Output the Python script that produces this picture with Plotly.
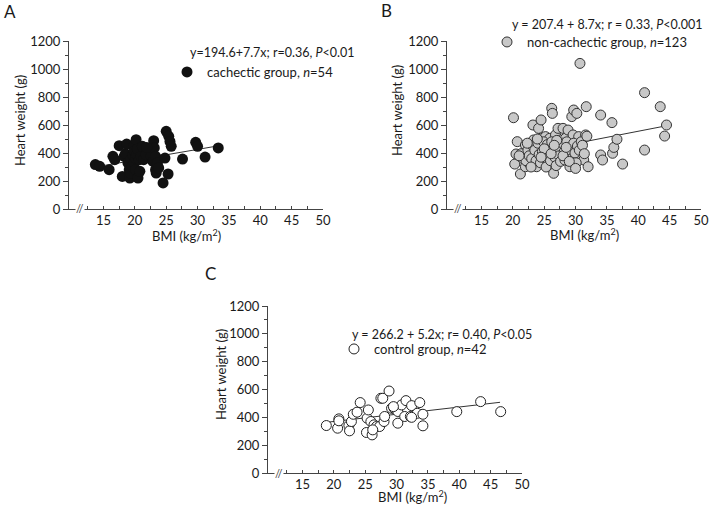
import plotly.graph_objects as go

W, H = 709, 511

# ---------------- Panel A: cachectic group ----------------
a_bmi = [13.7, 14.4, 15.9, 16.5, 16.8, 17.5, 18.0, 18.3, 18.5, 18.7,
         18.9, 19.1, 19.2, 19.3, 19.4, 19.6, 19.7, 19.8, 19.9, 19.9,
         20.1, 20.1, 20.2, 20.3, 20.4, 20.5, 20.7, 20.8, 21.0, 21.2,
         21.4, 21.8, 22.6, 22.9, 23.0, 23.1, 23.3, 23.3, 23.4, 23.6,
         23.8, 24.5, 24.8, 25.0, 25.4, 25.6, 25.8, 25.3, 27.6, 29.7,
         30.0, 31.2, 33.3, 21.9]
a_hw = [317, 305, 281, 376, 352, 452, 233, 376, 395, 464,
        329, 281, 221, 257, 357, 305, 388, 448, 412, 329,
        281, 364, 495, 388, 429, 221, 352, 269, 376, 448,
        352, 388, 376, 340, 488, 436, 376, 281, 257, 329,
        293, 186, 364, 555, 519, 483, 448, 250, 357, 476,
        448, 371, 436, 440]
a_fit_x = [14.0, 33.5]
a_coef = (194.6, 7.7)

# ---------------- Panel B: non-cachectic group ----------------
b_bmi = [20.1, 20.3, 20.7, 20.5, 21.2, 21.8, 22.0, 22.0, 22.2, 22.6,
         22.8, 23.2, 23.3, 23.6, 23.8, 24.1, 24.5, 24.4, 24.6, 24.9,
         25.2, 25.4, 25.7, 25.9, 26.2, 26.3, 26.5, 26.6, 26.8, 27.0,
         27.2, 27.3, 27.6, 27.8, 28.0, 28.1, 28.4, 28.6, 28.8, 29.0,
         29.1, 29.4, 29.6, 29.7, 29.8, 30.0, 30.2, 30.5, 30.7, 30.8,
         31.0, 31.3, 31.6, 31.7, 32.0, 34.0, 34.0, 34.3, 35.8, 35.9,
         36.1, 36.6, 37.5, 41.0, 41.0, 43.5, 44.5, 44.2,
         21.3, 21.6, 22.1, 22.4, 22.6, 23.0, 23.2, 23.5, 23.7, 24.0,
         24.2, 24.4, 24.7, 24.9, 25.1, 25.3, 25.5, 25.8, 26.0, 26.2,
         26.4, 26.7, 26.9, 27.1, 27.4, 27.6, 27.9, 28.2, 28.3, 28.6,
         28.9, 29.2, 29.4, 29.7, 29.9, 30.1, 30.3, 30.6, 30.9, 31.1,
         31.4, 31.8, 22.9, 23.9, 25.0, 26.1, 27.0, 28.0, 29.0, 30.0,
         24.5, 26.6, 28.5, 21.0, 22.3]
b_hw = [652, 321, 481, 393, 250, 398, 457, 302, 374, 326,
        410, 600, 493, 398, 302, 576, 636, 505, 445, 350,
        517, 421, 326, 505, 719, 683, 255, 386, 529, 457,
        576, 410, 493, 350, 576, 433, 505, 398, 564, 457,
        302, 660, 529, 707, 338, 445, 683, 517, 1040, 374,
        469, 350, 529, 731, 302, 671, 386, 350, 617, 398,
        440, 498, 321, 831, 421, 731, 600, 521,
        395, 360, 345, 420, 380, 360, 450, 420, 345, 470,
        390, 330, 410, 480, 365, 300, 460, 395, 345, 480,
        420, 370, 310, 430, 380, 340, 470, 410, 350, 480,
        390, 420, 360, 470, 400, 330, 450, 420, 480, 455,
        395, 520, 300, 500, 430, 395, 490, 380, 340, 290,
        370, 455, 440, 380, 470]
b_fit_x = [20.0, 45.0]
b_coef = (207.4, 8.7)

# ---------------- Panel C: control group ----------------
c_bmi = [18.8, 20.6, 20.8, 20.8, 22.4, 22.5, 22.8, 23.1, 23.7, 24.2,
         25.2, 25.3, 25.5, 25.9, 26.1, 26.4, 26.8, 27.3, 27.5, 27.8,
         28.0, 28.1, 28.8, 29.2, 29.6, 30.2, 30.2, 30.8, 31.5, 31.3,
         32.2, 32.4, 33.3, 33.7, 34.2, 34.2, 39.6, 43.4, 46.6, 29.5,
         26.2, 32.4]
c_hw = [341, 322, 389, 375, 341, 303, 370, 422, 437, 506,
        291, 394, 453, 370, 274, 346, 334, 334, 537, 537,
        370, 406, 589, 465, 465, 358, 442, 489, 520, 406,
        406, 484, 429, 506, 422, 339, 441, 513, 441, 477,
        310, 400]
c_fit_x = [19.0, 46.5]
c_coef = (266.2, 5.2)

x_tickvals = [15, 20, 25, 30, 35, 40, 45, 50]
x_minorvals = [12.5, 17.5, 22.5, 27.5, 32.5, 37.5, 42.5, 47.5]
y_tickvals = [0, 200, 400, 600, 800, 1000, 1200]
y_minorvals = [100, 300, 500, 700, 900, 1100]

eq_texts = ["y=194.6+7.7x; r=0.36, <i>P</i>&lt;0.01",
            "y = 207.4 + 8.7x; r = 0.33, <i>P</i>&lt;0.001",
            "y = 266.2 + 5.2x; r= 0.40, <i>P</i>&lt;0.05"]
group_names = ["cachectic group, <i>n</i>=54",
               "non-cachectic group, <i>n</i>=123",
               "control group, <i>n</i>=42"]
panel_labels = ["A", "B", "C"]

FONT = "Lato, Arial, sans-serif"
TXT = "#1a1a1a"
AXC = "#444444"


def px(x, y):
    return x / W, 1 - y / H


fig = go.Figure()

styles = [
    dict(color="#111111", size=11, line=dict(color="#111111", width=0)),
    dict(color="#c8c8c8", size=10, line=dict(color="#333333", width=1)),
    dict(color="#ffffff", size=10, line=dict(color="#222222", width=1)),
]
datasets = [(a_bmi, a_hw, a_fit_x, a_coef), (b_bmi, b_hw, b_fit_x, b_coef),
            (c_bmi, c_hw, c_fit_x, c_coef)]

for i, (bx, hy, fx, coef) in enumerate(datasets):
    xa = "x" if i == 0 else f"x{i+1}"
    ya = "y" if i == 0 else f"y{i+1}"
    lg = "legend" if i == 0 else f"legend{i+1}"
    fy = [coef[0] + coef[1] * v for v in fx]
    fig.add_trace(go.Scatter(x=fx, y=fy, mode="lines", xaxis=xa, yaxis=ya,
                             line=dict(color="#333333", width=1),
                             showlegend=False, hoverinfo="skip"))
    fig.add_trace(go.Scatter(x=bx, y=hy, mode="markers", xaxis=xa, yaxis=ya,
                             marker=styles[i], name=group_names[i],
                             legend=lg, showlegend=True))

x_dom_px = [(69, 323), (447, 701), (268, 522)]
y_dom_px = [(41, 209), (41, 209), (306, 473)]

axis_common = dict(showgrid=False, zeroline=False, showline=True,
                   linecolor=AXC, linewidth=1,
                   tickcolor=AXC, tickwidth=1, automargin=False,
                   tickfont=dict(family=FONT, size=13, color=TXT))

layout = dict(width=W, height=H,
              margin=dict(l=0, r=0, t=0, b=0, pad=0, autoexpand=False),
              plot_bgcolor="white", paper_bgcolor="white",
              font=dict(family=FONT, color=TXT))

for i in range(3):
    sx = "" if i == 0 else str(i + 1)
    x0, x1 = x_dom_px[i]
    yt, yb = y_dom_px[i]
    layout[f"xaxis{sx}"] = dict(
        axis_common, domain=[x0 / W, x1 / W], range=[9.5, 50],
        anchor=f"y{sx}", tickmode="array", tickvals=x_tickvals,
        ticks="inside", ticklen=3, ticklabelstandoff=-1,
        minor=dict(tickmode="array", tickvals=x_minorvals, ticklen=3,
                   ticks="inside", tickcolor=AXC))
    layout[f"yaxis{sx}"] = dict(
        axis_common, domain=[1 - yb / H, 1 - yt / H], range=[0, 1200],
        anchor=f"x{sx}", tickmode="array", tickvals=y_tickvals,
        ticks="outside", ticklen=5,
        minor=dict(tickmode="array", tickvals=y_minorvals, ticklen=3,
                   ticks="outside", tickcolor=AXC))

leg_pos = [(167, 72), (487, 42), (334, 349)]
for i, (lx, ly) in enumerate(leg_pos):
    key = "legend" if i == 0 else f"legend{i+1}"
    xx, yy = px(lx, ly)
    layout[key] = dict(x=xx, y=yy, xanchor="left", yanchor="middle",
                       xref="paper", yref="paper", bgcolor="rgba(0,0,0,0)",
                       borderwidth=0, font=dict(family=FONT, size=13, color=TXT),
                       itemwidth=30)

fig.update_layout(**layout)

annotations = []
eq_pos = [(188, 52), (510, 25), (350, 334)]
for i, (ex, ey) in enumerate(eq_pos):
    xx, yy = px(ex, ey)
    annotations.append(dict(x=xx, y=yy, xref="paper", yref="paper",
                            text=eq_texts[i], showarrow=False,
                            xanchor="left", yanchor="middle",
                            font=dict(family=FONT, size=12.5, color=TXT)))
lab_pos = [(10, 11), (386, 10), (210, 273)]
for i, (lx, ly) in enumerate(lab_pos):
    xx, yy = px(lx, ly)
    annotations.append(dict(x=xx, y=yy, xref="paper", yref="paper",
                            text=panel_labels[i], showarrow=False,
                            xanchor="center", yanchor="middle",
                            font=dict(family=FONT, size=17, color=TXT)))
yt_pos = [(20, 121), (397, 111), (221, 375)]
for i, (tx, ty) in enumerate(yt_pos):
    xx, yy = px(tx, ty)
    annotations.append(dict(x=xx, y=yy, xref="paper", yref="paper",
                            text="Heart weight (g)", showarrow=False,
                            textangle=-90, xanchor="center", yanchor="middle",
                            font=dict(family=FONT, size=13, color=TXT)))
xt_pos = [(187, 235), (584, 234), (412, 496)]
for i, (tx, ty) in enumerate(xt_pos):
    xx, yy = px(tx, ty)
    annotations.append(dict(x=xx, y=yy, xref="paper", yref="paper",
                            text="BMI (kg/m<sup>2</sup>)", showarrow=False,
                            xanchor="center", yanchor="middle",
                            font=dict(family=FONT, size=13, color=TXT)))
for i in range(3):
    sx = "" if i == 0 else str(i + 1)
    annotations.append(dict(x=11.2, y=0, xref=f"x{sx}", yref=f"y{sx}",
                            text="//", showarrow=False, xanchor="center",
                            yanchor="middle", bgcolor="white", borderpad=0,
                            font=dict(family=FONT, size=11, color=AXC)))

fig.update_layout(annotations=annotations)
fig.write_html(
    "out.html",
    config={"displayModeBar": False},
    post_script="document.body.style.margin='0px';"
                "document.body.style.padding='0px';"
                "document.body.style.overflow='hidden';")
